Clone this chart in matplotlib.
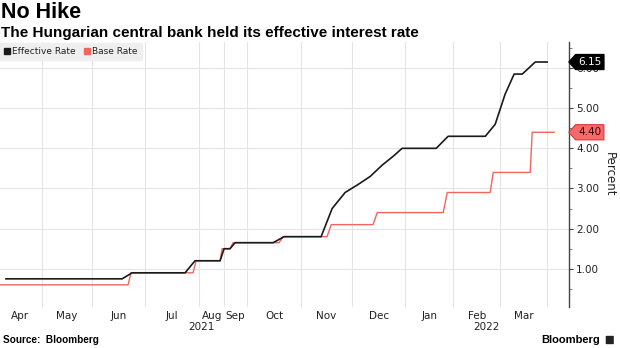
import matplotlib.pyplot as plt
from matplotlib.lines import Line2D
from matplotlib.path import Path
from matplotlib.patches import FancyBboxPatch

# x is an observation index along the axis, y in percent
eff_x = [2.7, 55.5, 60.0, 84.1, 88.6, 100.0, 101.8, 104.5, 106.8, 124.1, 129.1, 145.9, 150.9,
         156.8, 162.7, 168.2, 173.6, 178.6, 182.7, 198.2, 203.6, 220.5, 225.0, 229.5, 233.6,
         237.3, 243.2, 248.6]
eff_y = [0.75, 0.75, 0.90, 0.90, 1.20, 1.20, 1.50, 1.50, 1.65, 1.65, 1.80, 1.80, 2.50,
         2.90, 3.10, 3.30, 3.58, 3.80, 4.00, 4.00, 4.30, 4.30, 4.60, 5.35, 5.85,
         5.85, 6.15, 6.15]

base_x = [0.0, 58.2, 59.5, 87.7, 89.1, 100.0, 100.9, 104.5, 105.9, 126.8, 128.6, 148.6, 150.5,
          169.5, 171.4, 201.4, 203.2, 222.7, 224.1, 240.9, 241.8, 251.8]
base_y = [0.60, 0.60, 0.90, 0.90, 1.20, 1.20, 1.50, 1.50, 1.65, 1.65, 1.80, 1.80, 2.10,
          2.10, 2.40, 2.40, 2.90, 2.90, 3.40, 3.40, 4.40, 4.40]

# month boundaries on the index axis
month_edges = [-0.9, 19.1, 41.8, 65.9, 90.5, 101.8, 112.3, 136.8, 160.0, 184.1, 205.9, 227.3, 248.6]
month_names = ['Apr', 'May', 'Jun', 'Jul', 'Aug', 'Sep', 'Oct', 'Nov', 'Dec', 'Jan', 'Feb', 'Mar']
year_pos = [91.4, 220.9]
year_names = ['2021', '2022']

black = '#1a1a1a'
salmon = '#f0665c'

plt.rcParams['font.family'] = ['DejaVu Sans']

fig = plt.figure(figsize=(6.2, 3.48), dpi=100)
ax = fig.add_axes([0.0, 0.118, 0.918, 0.7615])

ax.plot(base_x, base_y, color=salmon, lw=1.0, zorder=3)
ax.plot(eff_x, eff_y, color=black, lw=1.2, zorder=4)

ax.set_xlim(0, 258.6)
ax.set_ylim(0.05, 6.65)

# y axis on the right
ax.yaxis.tick_right()
ax.yaxis.set_label_position('right')
ax.set_yticks([1, 2, 3, 4, 5, 6])
ax.set_yticks([0.5, 1.5, 2.5, 3.5, 4.5, 5.5, 6.5], minor=True)
ax.set_yticklabels(['%.2f' % v for v in [1, 2, 3, 4, 5, 6]])
ax.tick_params(axis='y', which='major', length=3, width=0.8, color='#444444',
               labelsize=7.5, labelcolor='#222222', pad=2)
ax.tick_params(axis='y', which='minor', length=2.5, width=0.6, color='#666666')
ax.set_ylabel('Percent', rotation=270, fontsize=8.5, color='#222222', labelpad=12)

# month labels between gridlines
mids = [(month_edges[i] + month_edges[i + 1]) / 2 for i in range(len(month_names))]
ax.set_xticks(mids)
ax.set_xticklabels(month_names)
ax.set_xticks(month_edges[1:], minor=True)
ax.tick_params(axis='x', which='both', length=0, labelsize=7.5, labelcolor='#222222', pad=3)
for xp, yr in zip(year_pos, year_names):
    ax.text(xp, -0.077, yr, transform=ax.get_xaxis_transform(), ha='center', va='center',
            fontsize=7.5, color='#222222')

ax.grid(axis='x', which='minor', color='#e4e4e4', lw=0.8)
ax.grid(axis='y', which='major', color='#e4e4e4', lw=0.8)
ax.set_axisbelow(True)

for s in ['top', 'left', 'bottom']:
    ax.spines[s].set_visible(False)
ax.spines['right'].set_color('#444444')
ax.spines['right'].set_linewidth(1.0)


def tag_box(x0, y0, width, height, mutation_size):
    pad = 0.25 * mutation_size
    x0 -= pad
    y0 -= pad
    w = width + 2 * pad
    h = height + 2 * pad
    tip = h * 0.45
    verts = [(x0 - tip, y0 + h / 2), (x0, y0 + h), (x0 + w, y0 + h), (x0 + w, y0),
             (x0, y0), (x0 - tip, y0 + h / 2)]
    return Path(verts, closed=True)


# last value tags on the axis
ax.annotate('%.2f' % eff_y[-1], xy=(1, eff_y[-1]), xycoords=('axes fraction', 'data'),
            xytext=(6.5, 0), textcoords='offset points', ha='left', va='center',
            fontsize=7.5, color='white', annotation_clip=False, zorder=10,
            bbox=dict(boxstyle=tag_box, fc='black', ec='black', lw=0.8))
ax.annotate('%.2f' % base_y[-1], xy=(1, base_y[-1]), xycoords=('axes fraction', 'data'),
            xytext=(6.5, 0), textcoords='offset points', ha='left', va='center',
            fontsize=7.5, color='#3a0505', annotation_clip=False, zorder=10,
            bbox=dict(boxstyle=tag_box, fc='#f8696b', ec='#d8383a', lw=0.8))

handles = [Line2D([], [], marker='s', ls='none', color=black, markersize=5),
           Line2D([], [], marker='s', ls='none', color=salmon, markersize=5)]
leg = ax.legend(handles, ['Effective Rate', 'Base Rate'], loc='upper left', bbox_to_anchor=(0, 0.995),
                ncol=2, fontsize=6.5, frameon=True, fancybox=False, borderaxespad=0,
                handlelength=0.6, handletextpad=0.3, columnspacing=0.9, borderpad=0.45)
leg.get_frame().set_facecolor('#efefef')
leg.get_frame().set_edgecolor('#efefef')
leg.get_frame().set_alpha(1)
for t in leg.get_texts():
    t.set_color('#222222')

fig.text(0.002, 0.963, 'No Hike', fontsize=15.5, fontweight='bold', family='Liberation Sans',
         color='black', va='center', ha='left')
fig.text(0.002, 0.905, 'The Hungarian central bank held its effective interest rate', fontsize=11,
         fontweight='bold', family='Liberation Sans', color='black', va='center', ha='left')
fig.text(0.005, 0.023, 'Source:  Bloomberg', fontsize=7.2, fontweight='bold', family='Liberation Sans',
         color='black', va='center', ha='left')
fig.text(0.968, 0.023, 'Bloomberg', fontsize=8, fontweight='bold', family='Liberation Sans',
         color='black', va='center', ha='right')
fig.patches.append(FancyBboxPatch((0.978, 0.012), 0.011, 0.022, boxstyle='round,pad=0.001',
                                  transform=fig.transFigure, fc='#222222', ec='none'))

fig.savefig('out.png', dpi=100)
